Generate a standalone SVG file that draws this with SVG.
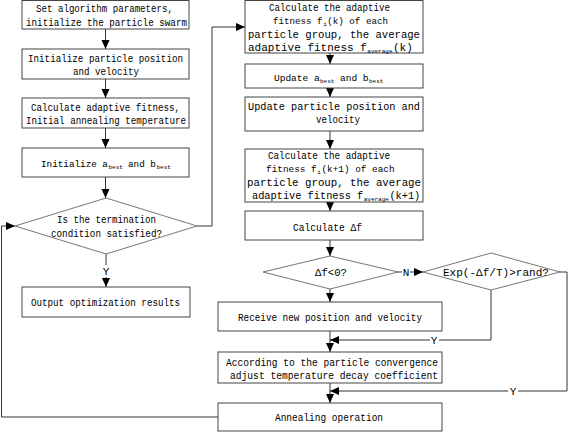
<svg xmlns="http://www.w3.org/2000/svg" width="568" height="433" viewBox="0 0 568 433">
<defs>
<style>
.box{fill:#fff;stroke:#444;stroke-width:1}
.dia{fill:#fff;stroke:#666;stroke-width:0.9}
.ln{fill:none;stroke:#333;stroke-width:1}
.t{font-family:"Liberation Mono",monospace;font-size:11px;fill:#000}
.s{font-family:"Liberation Mono",monospace;font-size:6px;fill:#000}
.c{text-anchor:middle}
</style>
<marker id="ah" markerUnits="userSpaceOnUse" markerWidth="10" markerHeight="10" refX="9" refY="4" orient="auto">
<path d="M0,0 L9,4 L0,8 z" fill="#000"/>
</marker>
</defs>
<rect width="568" height="433" fill="#fff"/>

<g id="connectors">
<line class="ln" x1="105.5" y1="29" x2="105.5" y2="49" marker-end="url(#ah)"/>
<line class="ln" x1="105.5" y1="79" x2="105.5" y2="98" marker-end="url(#ah)"/>
<line class="ln" x1="105.5" y1="128" x2="105.5" y2="148" marker-end="url(#ah)"/>
<line class="ln" x1="105.5" y1="177" x2="105.5" y2="198" marker-end="url(#ah)"/>
<line class="ln" x1="106" y1="254" x2="106" y2="265"/>
<line class="ln" x1="106" y1="277" x2="106" y2="287" marker-end="url(#ah)"/>
<text class="t c" x="106" y="275">Y</text>
<polyline class="ln" points="197,226 212,226 212,27 245,27" marker-end="url(#ah)"/>
<line class="ln" x1="330" y1="53" x2="330" y2="64" marker-end="url(#ah)"/>
<line class="ln" x1="330" y1="88" x2="330" y2="97" marker-end="url(#ah)"/>
<line class="ln" x1="330" y1="131" x2="330" y2="149" marker-end="url(#ah)"/>
<line class="ln" x1="330" y1="202" x2="330" y2="211" marker-end="url(#ah)"/>
<line class="ln" x1="330" y1="240" x2="330" y2="256" marker-end="url(#ah)"/>
<line class="ln" x1="398" y1="272" x2="402" y2="272"/>
<text class="t c" x="406" y="276">N</text>
<line class="ln" x1="410" y1="272" x2="423" y2="272" marker-end="url(#ah)"/>
<line class="ln" x1="330" y1="289" x2="330" y2="302" marker-end="url(#ah)"/>
<line class="ln" x1="330" y1="331" x2="330" y2="352" marker-end="url(#ah)"/>
<polyline class="ln" points="491,290 491,340 439,340"/>
<text class="t c" x="434" y="344">Y</text>
<line class="ln" x1="430" y1="340" x2="330" y2="340" marker-end="url(#ah)"/>
<polyline class="ln" points="560,272 567,272 567,391 518,391"/>
<text class="t c" x="513" y="395">Y</text>
<line class="ln" x1="508" y1="391" x2="330" y2="391" marker-end="url(#ah)"/>
<line class="ln" x1="330" y1="383" x2="330" y2="403" marker-end="url(#ah)"/>
<polyline class="ln" points="218,417 1.5,417 1.5,226 15,226" marker-end="url(#ah)"/>
</g>

<g id="n1">
<rect class="box" x="22" y="0.5" width="167" height="28.5"/>
<text class="t" x="36" y="12" textLength="137" lengthAdjust="spacingAndGlyphs">Set algorithm parameters,</text>
<text class="t" x="26" y="26" textLength="161" lengthAdjust="spacingAndGlyphs">initialize the particle swarm</text>
</g>
<g id="n2">
<rect class="box" x="22" y="49" width="167" height="30"/>
<text class="t" x="28" y="62" textLength="155" lengthAdjust="spacingAndGlyphs">Initialize particle position</text>
<text class="t" x="73" y="75" textLength="66" lengthAdjust="spacingAndGlyphs">and velocity</text>
</g>
<g id="n3">
<rect class="box" x="22" y="98" width="167" height="30"/>
<text class="t" x="31" y="111" textLength="149" lengthAdjust="spacingAndGlyphs">Calculate adaptive fitness,</text>
<text class="t" x="26" y="124" textLength="160" lengthAdjust="spacingAndGlyphs">Initial annealing temperature</text>
</g>
<g id="n4">
<rect class="box" x="22" y="148" width="167" height="29"/>
<text class="t" x="41" y="167" style="font-size:9.3px">Initialize a</text>
<text class="s" x="108.5" y="169">best</text>
<text class="t" x="128" y="167" style="font-size:9.3px">and b</text>
<text class="s" x="156.5" y="169">best</text>
</g>
<g id="n5">
<polygon class="dia" points="106,198 197,226 106,254 15,226"/>
<text class="t" x="57" y="223" textLength="99" lengthAdjust="spacingAndGlyphs">Is the termination</text>
<text class="t" x="51" y="237" textLength="111" lengthAdjust="spacingAndGlyphs">condition satisfied?</text>
</g>
<g id="n6">
<rect class="box" x="22" y="287" width="168" height="30"/>
<text class="t" x="31" y="306" textLength="149" lengthAdjust="spacingAndGlyphs">Output optimization results</text>
</g>

<g id="r1">
<rect class="box" x="245" y="0.5" width="178" height="52.5"/>
<text class="t" x="269" y="11" textLength="121" lengthAdjust="spacingAndGlyphs">Calculate the adaptive</text>
<text class="t" x="273" y="24" style="font-size:9.2px">fitness f</text>
<text class="s" x="323.2" y="26">i</text>
<text class="t" x="327.3" y="24" style="font-size:9.2px">(k) of each</text>
<text class="t" x="248" y="38" textLength="172" lengthAdjust="spacingAndGlyphs">particle group, the average</text>
<text class="t" x="248" y="51">adaptive fitness f</text>
<text class="s" x="367.3" y="52.5">average</text>
<text class="t" x="393" y="51">(k)</text>
</g>
<g id="r2">
<rect class="box" x="245" y="64" width="178" height="24"/>
<text class="t" x="274" y="81" style="font-size:9.5px">Update a</text>
<text class="s" x="320" y="83">best</text>
<text class="t" x="340" y="81" style="font-size:9.5px">and b</text>
<text class="s" x="369" y="83">best</text>
</g>
<g id="r3">
<rect class="box" x="245" y="97" width="178" height="34"/>
<text class="t" x="248" y="110" textLength="172" lengthAdjust="spacingAndGlyphs">Update particle position and</text>
<text class="t" x="316" y="123" textLength="44" lengthAdjust="spacingAndGlyphs">velocity</text>
</g>
<g id="r4">
<rect class="box" x="245" y="149" width="178" height="53"/>
<text class="t" x="268" y="159" textLength="122" lengthAdjust="spacingAndGlyphs">Calculate the adaptive</text>
<text class="t" x="266" y="172" style="font-size:9.4px">fitness f</text>
<text class="s" x="317.3" y="174">i</text>
<text class="t" x="321.4" y="172" style="font-size:9.4px">(k+1) of each</text>
<text class="t" x="247" y="186" textLength="174" lengthAdjust="spacingAndGlyphs">particle group, the average</text>
<text class="t" x="252" y="199" style="font-size:10.3px">adaptive fitness f</text>
<text class="s" x="363.7" y="200.5">average</text>
<text class="t" x="389.4" y="199" style="font-size:10.3px">(k+1)</text>
</g>
<g id="r5">
<rect class="box" x="245" y="211" width="178" height="29"/>
<text class="t" x="293" y="231" textLength="69" lengthAdjust="spacingAndGlyphs">Calculate Δf</text>
</g>
<g id="d1">
<polygon class="dia" points="330,256 398,272 330,289 263,272"/>
<text class="t" x="315" y="276" textLength="32" lengthAdjust="spacingAndGlyphs">Δf&lt;0?</text>
</g>
<g id="d2">
<polygon class="dia" points="491,253 560,272 491,290 423,272"/>
<text class="t" x="443" y="276" textLength="106" lengthAdjust="spacingAndGlyphs">Exp(-Δf/T)&gt;rand?</text>
</g>
<g id="r6">
<rect class="box" x="218" y="302" width="224" height="29"/>
<text class="t" x="238" y="321" textLength="184" lengthAdjust="spacingAndGlyphs">Receive new position and velocity</text>
</g>
<g id="r7">
<rect class="box" x="218" y="352" width="224" height="31"/>
<text class="t" x="226" y="366" textLength="212" lengthAdjust="spacingAndGlyphs">According to the particle convergence</text>
<text class="t" x="230" y="379" textLength="208" lengthAdjust="spacingAndGlyphs">adjust temperature decay coefficient</text>
</g>
<g id="r8">
<rect class="box" x="218" y="403" width="224" height="28"/>
<text class="t" x="275" y="421" textLength="108" lengthAdjust="spacingAndGlyphs">Annealing operation</text>
</g>
</svg>
